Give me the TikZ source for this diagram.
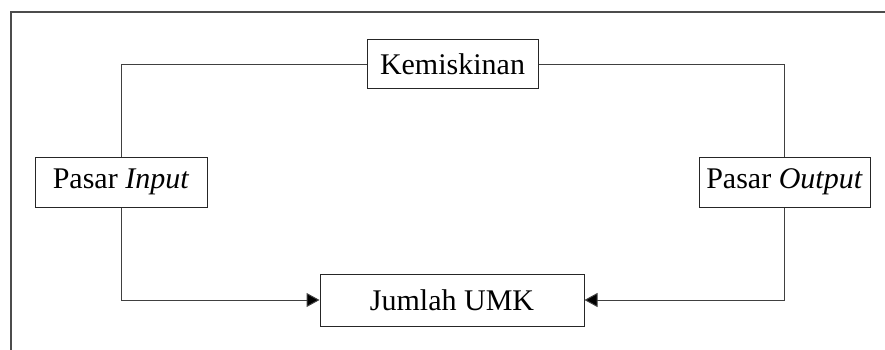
\documentclass[tikz,border=0pt]{standalone}
\usepackage{fontspec}
\setmainfont{Liberation Serif}
\usetikzlibrary{arrows.meta}
\begin{document}
\begin{tikzpicture}[x=1pt,y=-1pt,
  box/.style={draw=black!85,line width=1pt,fill=white,inner sep=0pt,font=\fontsize{30}{33}\selectfont},
  conn/.style={draw=black!75,line width=1pt},
  tip/.style={-{Triangle[length=13pt,width=14pt,fill=black]}}]
\useasboundingbox (0,0) rectangle (885,350);
\coordinate (fa) at (11,350);
\coordinate (fb) at (11,12);
\coordinate (fc) at (885,12);
\draw[draw=black!70,line width=1.3pt] (fa) -- (fb) -- (fc);
\node[box,minimum width=171pt,minimum height=49pt] (kem) at (452.5,64.5) {Kemiskinan};
\node[box,minimum width=172pt,minimum height=50pt] (pin) at (121,182) {Pasar \textit{Input}};
\node[box,minimum width=171pt,minimum height=50pt] (pout) at (784.5,182) {Pasar \textit{Output}};
\node[box,minimum width=264pt,minimum height=52pt] (jum) at (452,300) {Jumlah UMK};
\draw[conn] (kem.west) -| (pin.north);
\draw[conn] (kem.east) -| (pout.north);
\draw[conn,tip] (pin.south) |- (jum.west);
\draw[conn,tip] (pout.south) |- (jum.east);
\end{tikzpicture}
\end{document}
